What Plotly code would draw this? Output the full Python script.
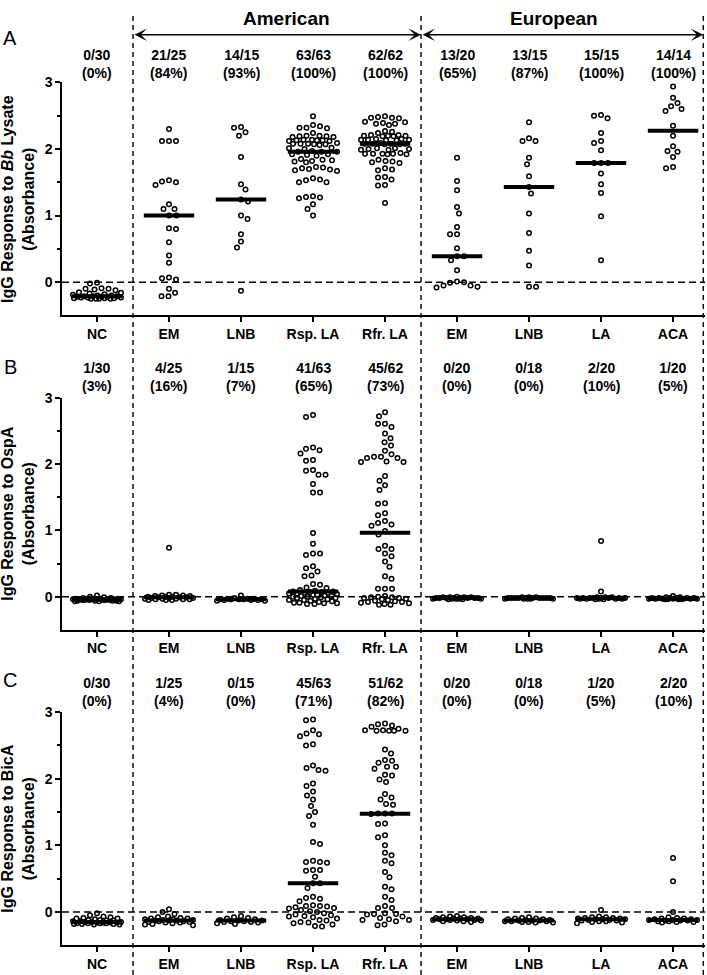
import numpy as np
import plotly.graph_objects as go

# ---------------- data ----------------
categories = ["NC", "EM", "LNB", "Rsp. LA", "Rfr. LA", "EM", "LNB", "LA", "ACA"]
region_labels = ["American", "European"]
panel_letters = ["A", "B", "C"]
antigens = ["<i>Bb</i> Lysate", "OspA", "BicA"]

# Panel A: IgG response to Bb lysate
a_nc = [-0.02, -0.01, -0.09, -0.10, -0.11, -0.12, -0.10, -0.15, -0.16, -0.17,
        -0.18, -0.19, -0.20, -0.20, -0.21, -0.21, -0.21, -0.22, -0.22, -0.22,
        -0.23, -0.23, -0.23, -0.24, -0.24, -0.24, -0.25, -0.25, -0.25, -0.25]
a_em_am = [2.30, 2.12, 2.12, 2.12, 1.53, 1.51, 1.50, 1.46, 1.17, 1.10, 1.10, 1.00, 1.00,
           0.81, 0.80, 0.60, 0.40, 0.29, 0.07, 0.06, 0.04, -0.10, -0.16, -0.21, -0.21]
a_lnb_am = [2.33, 2.32, 2.25, 2.20, 1.88, 1.47, 1.39, 1.24, 1.21, 1.00, 0.95, 0.72, 0.61, 0.52, -0.13]
a_rsp_la = [2.49,
            2.36, 2.34, 2.32, 2.32, 2.31,
            2.24,
            2.20, 2.19, 2.19, 2.18, 2.20, 2.18,
            2.14, 2.13, 2.13, 2.12, 2.14, 2.13, 2.12,
            2.08, 2.07, 2.09, 2.08, 2.07, 2.06, 2.08,
            2.02, 2.01, 2.00,
            1.96, 1.96, 1.96, 1.97,
            1.92, 1.91, 1.92, 1.90,
            1.85, 1.83, 1.81, 1.82, 1.84, 1.80,
            1.72, 1.69, 1.68, 1.71, 1.67, 1.70, 1.73,
            1.54, 1.50, 1.50, 1.53, 1.56,
            1.29, 1.28, 1.27, 1.26,
            1.17, 1.10, 1.00]
a_rfr_la = [2.49, 2.47, 2.46, 2.48, 2.47,
            2.40, 2.38, 2.36, 2.38, 2.39, 2.41,
            2.27, 2.26, 2.24,
            2.21, 2.20, 2.19, 2.20, 2.21, 2.19, 2.20,
            2.15, 2.14, 2.13, 2.14, 2.15, 2.13, 2.14,
            2.08, 2.08, 2.07, 2.09, 2.08, 2.07, 2.08,
            2.01, 2.00, 1.99, 2.01, 2.00, 1.99,
            1.93, 1.93, 1.92, 1.94, 1.93, 1.92, 1.93,
            1.84, 1.81, 1.80, 1.79, 1.82,
            1.71, 1.68, 1.69, 1.58, 1.54, 1.57,
            1.46, 1.45,
            1.19]
a_em_eu = [1.87, 1.52, 1.38, 1.13, 1.03, 0.83, 0.72, 0.72, 0.51, 0.39, 0.39, 0.33, 0.18,
           0.01, 0.00, -0.01, -0.05, -0.05, -0.07, -0.08]
a_lnb_eu = [2.40, 2.16, 2.12, 2.12, 1.87, 1.77, 1.59, 1.43, 1.33, 1.03, 0.74, 0.47, 0.25, -0.07, -0.07]
a_la_eu = [2.51, 2.50, 2.46, 2.24, 2.12, 2.09, 1.98, 1.79, 1.79, 1.79, 1.63, 1.47, 1.34, 0.99, 0.33]
a_aca = [2.94, 2.77, 2.69, 2.64, 2.60, 2.57, 2.35, 2.20, 2.04, 1.97, 1.96, 1.88, 1.73, 1.71]
a_counts = ["0/30", "21/25", "14/15", "63/63", "62/62", "13/20", "13/15", "15/15", "14/14"]
a_pcts = ["0%", "84%", "93%", "100%", "100%", "65%", "87%", "100%", "100%"]

# Panel B: IgG response to OspA
b_nc = [0.02, 0.00, -0.01, -0.02, -0.02, -0.03, -0.03, -0.03, -0.03, -0.03,
        -0.04, -0.04, -0.04, -0.04, -0.04, -0.04, -0.04, -0.05, -0.05, -0.05,
        -0.05, -0.05, -0.05, -0.06, -0.06, -0.06, -0.06, -0.07, -0.07, -0.07]
b_em_am = [0.74, 0.03, 0.03, 0.02, 0.02, 0.01, 0.01, 0.00, 0.00, 0.00, -0.01, -0.01, -0.01,
           -0.02, -0.02, -0.02, -0.03, -0.03, -0.03, -0.04, -0.04, -0.04, -0.05, -0.05, -0.05]
b_lnb_am = [0.02, -0.02, -0.03, -0.03, -0.03, -0.04, -0.04, -0.04, -0.04, -0.04,
            -0.05, -0.05, -0.05, -0.06, -0.06]
b_rsp_la = [2.74, 2.71, 2.25, 2.23, 2.21, 2.16, 2.06, 2.05, 1.91, 1.90, 1.84, 1.84, 1.70,
            1.57, 1.57, 0.96, 0.80, 0.65, 0.65, 0.63, 0.46, 0.43, 0.38, 0.32, 0.31,
            0.19, 0.18, 0.14, 0.13,
            0.10, 0.09, 0.08, 0.08, 0.07, 0.07, 0.06, 0.06, 0.05, 0.05, 0.04, 0.03,
            0.03, 0.02, 0.01, 0.01, 0.00, 0.00, -0.01, -0.02, -0.02, -0.03, -0.04,
            -0.05, -0.05, -0.06, -0.07, -0.08, -0.09, -0.09, -0.10, -0.10, -0.11, -0.11]
b_rfr_la = [2.78, 2.72, 2.61, 2.61, 2.56, 2.46, 2.39, 2.33, 2.28, 2.20, 2.15, 2.11, 2.09,
            2.03, 2.03, 2.04, 2.09, 2.11, 1.82, 1.75, 1.68, 1.61, 1.41, 1.40, 1.26, 1.23,
            1.14, 1.11, 1.09, 1.07, 0.99, 0.94, 0.77, 0.72, 0.72, 0.65, 0.61, 0.53, 0.45,
            0.31, 0.27, 0.12, 0.12, 0.12,
            0.01, 0.00, -0.01, -0.01, -0.02, -0.02, -0.03, -0.04, -0.05, -0.06, -0.07,
            -0.08, -0.08, -0.09, -0.10, -0.11, -0.12, -0.12]
b_em_eu = [0.00, -0.01, -0.01, -0.01, -0.01, -0.02, -0.02, -0.02, -0.02, -0.02,
           -0.02, -0.02, -0.02, -0.03, -0.03, -0.03, -0.03, -0.03, -0.04, -0.04]
b_lnb_eu = [-0.01, -0.01, -0.01, -0.02, -0.02, -0.02, -0.02, -0.02, -0.02,
            -0.02, -0.02, -0.02, -0.02, -0.03, -0.03, -0.03, -0.03, -0.03]
b_la_eu = [0.84, 0.08, -0.01, -0.01, -0.01, -0.02, -0.02, -0.02, -0.02, -0.02,
           -0.02, -0.02, -0.02, -0.03, -0.03, -0.03, -0.03, -0.03, -0.04, -0.04]
b_aca = [0.01, -0.01, -0.01, -0.02, -0.02, -0.02, -0.02, -0.02, -0.02, -0.03,
         -0.03, -0.03, -0.03, -0.03, -0.03, -0.03, -0.04, -0.04, -0.04, -0.04]
b_counts = ["1/30", "4/25", "1/15", "41/63", "45/62", "0/20", "0/18", "2/20", "1/20"]
b_pcts = ["3%", "16%", "7%", "65%", "73%", "0%", "0%", "10%", "5%"]

# Panel C: IgG response to BicA
c_nc = [-0.02, -0.05, -0.07, -0.08, -0.09, -0.10, -0.10, -0.11, -0.12, -0.12,
        -0.13, -0.13, -0.14, -0.14, -0.15, -0.15, -0.15, -0.16, -0.16, -0.16,
        -0.16, -0.17, -0.17, -0.17, -0.17, -0.18, -0.18, -0.18, -0.19, -0.19]
c_em_am = [0.04, 0.00, -0.03, -0.07, -0.08, -0.09, -0.10, -0.10, -0.11, -0.11, -0.12, -0.12,
           -0.13, -0.13, -0.13, -0.14, -0.14, -0.15, -0.15, -0.16, -0.16, -0.17, -0.18, -0.19, -0.20]
c_lnb_am = [-0.06, -0.08, -0.09, -0.10, -0.11, -0.12, -0.13, -0.13, -0.14, -0.14,
            -0.15, -0.15, -0.16, -0.17, -0.18]
c_rsp_la = [2.89, 2.88, 2.73, 2.68, 2.67, 2.64, 2.52, 2.50, 2.20, 2.16, 2.13, 2.12, 1.93,
            1.89, 1.81, 1.75, 1.69, 1.59, 1.50, 1.44, 1.31, 1.05, 1.02, 0.77, 0.75, 0.75,
            0.74, 0.63, 0.63, 0.62, 0.53, 0.43, 0.43, 0.36, 0.23, 0.21, 0.20, 0.16,
            0.10, 0.09, 0.09, 0.08, 0.07, 0.06, 0.05, 0.03, 0.01, 0.00, -0.02, -0.04,
            -0.05, -0.06, -0.07, -0.08, -0.10, -0.12, -0.13, -0.15, -0.16, -0.17, -0.19,
            -0.21, -0.22]
c_rfr_la = [2.83, 2.82, 2.80, 2.78, 2.75, 2.73, 2.73, 2.72, 2.72, 2.72, 2.72, 2.44, 2.38,
            2.28, 2.27, 2.24, 2.18, 2.18, 2.15, 2.06, 2.05, 1.99, 1.95, 1.77, 1.72, 1.69,
            1.62, 1.61, 1.48, 1.48, 1.48, 1.47, 1.33, 1.32, 1.15, 1.12, 1.00, 0.89, 0.85,
            0.77, 0.73, 0.60, 0.52, 0.38, 0.34, 0.23, 0.18, 0.09, 0.06, 0.06,
            -0.02, -0.03, -0.03, -0.04, -0.07, -0.09, -0.11, -0.12, -0.12, -0.14, -0.19, -0.20]
c_em_eu = [-0.06, -0.07, -0.08, -0.08, -0.09, -0.09, -0.10, -0.10, -0.10, -0.11,
           -0.11, -0.11, -0.12, -0.12, -0.12, -0.13, -0.13, -0.14, -0.14, -0.15]
c_lnb_eu = [-0.08, -0.09, -0.10, -0.10, -0.11, -0.11, -0.12, -0.12, -0.13,
            -0.13, -0.13, -0.14, -0.14, -0.14, -0.15, -0.15, -0.16, -0.16]
c_la_eu = [0.03, -0.07, -0.08, -0.08, -0.09, -0.09, -0.10, -0.10, -0.11, -0.11,
           -0.11, -0.12, -0.12, -0.13, -0.13, -0.14, -0.14, -0.15, -0.16, -0.17]
c_aca = [0.81, 0.46, 0.00, -0.08, -0.09, -0.10, -0.10, -0.11, -0.11, -0.12,
         -0.12, -0.12, -0.13, -0.13, -0.13, -0.14, -0.14, -0.15, -0.15, -0.16]
c_counts = ["0/30", "1/25", "0/15", "45/63", "51/62", "0/20", "0/18", "1/20", "2/20"]
c_pcts = ["0%", "4%", "0%", "71%", "82%", "0%", "0%", "5%", "10%"]

panels = [
    ([a_nc, a_em_am, a_lnb_am, a_rsp_la, a_rfr_la, a_em_eu, a_lnb_eu, a_la_eu, a_aca], a_counts, a_pcts),
    ([b_nc, b_em_am, b_lnb_am, b_rsp_la, b_rfr_la, b_em_eu, b_lnb_eu, b_la_eu, b_aca], b_counts, b_pcts),
    ([c_nc, c_em_am, c_lnb_am, c_rsp_la, c_rfr_la, c_em_eu, c_lnb_eu, c_la_eu, c_aca], c_counts, c_pcts),
]

# ---------------- geometry / style ----------------
FIG_W, FIG_H = 707, 975
X_LEFT, X_RIGHT = 62, 705
PANEL_TB = [(75, 310), (393, 627), (710, 945)]
COUNT_Y = [56, 372.5, 690]
LETTER_Y = [30, 362, 678]
XR = [-0.486, 8.444]
YR = [-0.5, 3.0]
XPX = (X_RIGHT - X_LEFT) / (XR[1] - XR[0])
YPX = (PANEL_TB[0][1] - PANEL_TB[0][0]) / (YR[1] - YR[0])
FONT = "Liberation Sans, Arial, Helvetica, sans-serif"


def xpaper(xv):
    return (X_LEFT + (xv - XR[0]) * XPX) / FIG_W


def ypaper(ypx):
    return 1 - ypx / FIG_H


def swarm_offsets(values, d_min=7.0, w_max=24.0):
    """Beeswarm offsets (in pixels) computed from the values."""
    v = np.asarray(values, float)
    order = np.argsort(-v, kind="stable")
    yp = v * YPX
    cand = np.arange(-w_max, w_max + 0.001, 0.5)
    px_list, py_list = [], []
    off = np.zeros(len(v))
    for k, idx in enumerate(order):
        y = yp[idx]
        if px_list:
            pxa = np.array(px_list)
            pya = np.array(py_list)
            dy = pya - y
            near = np.abs(dy) < d_min
            if near.any():
                d = np.sqrt((cand[:, None] - pxa[near][None, :]) ** 2 + dy[near][None, :] ** 2).min(axis=1)
            else:
                d = np.full(len(cand), np.inf)
        else:
            d = np.full(len(cand), np.inf)
        side = 1 if k % 2 == 0 else -1
        ok = d >= d_min
        if ok.any():
            score = np.abs(cand) + 1e-3 * (np.sign(cand) == -side)
            score[~ok] = np.inf
            j = int(np.argmin(score))
        else:
            score = -d + 1e-3 * np.abs(cand)
            j = int(np.argmin(score))
        off[idx] = cand[j]
        px_list.append(cand[j])
        py_list.append(y)
    return off


fig = go.Figure()
shapes = []
annotations = []
layout_axes = {}

for p, (groups, counts, pcts) in enumerate(panels):
    xname = "x" if p == 0 else f"x{p + 1}"
    yname = "y" if p == 0 else f"y{p + 1}"
    top, bot = PANEL_TB[p]
    med_x, med_y = [], []
    for i, vals in enumerate(groups):
        offs = swarm_offsets(vals)
        fig.add_trace(go.Scatter(
            x=i + offs / XPX, y=vals, mode="markers",
            marker=dict(symbol="circle-open", size=4.5, color="black", line=dict(width=1.5)),
            xaxis=xname, yaxis=yname, showlegend=False, hoverinfo="skip"))
        m = float(np.median(vals))
        med_x += [i - 0.35, i + 0.35, None]
        med_y += [m, m, None]
    fig.add_trace(go.Scatter(x=med_x, y=med_y, mode="lines",
                             line=dict(color="black", width=4),
                             xaxis=xname, yaxis=yname, showlegend=False, hoverinfo="skip"))

    layout_axes["xaxis" if p == 0 else f"xaxis{p + 1}"] = dict(
        domain=[X_LEFT / FIG_W, X_RIGHT / FIG_W], range=XR, anchor=yname,
        showline=True, linecolor="black", linewidth=1.5, mirror=False,
        ticks="outside", ticklen=5, tickwidth=1.5, tickcolor="black",
        tickvals=list(range(len(categories))),
        ticktext=[f"<b>{c}</b>" for c in categories],
        tickfont=dict(family=FONT, size=14, color="black"),
        showgrid=False, zeroline=False, fixedrange=True)
    layout_axes["yaxis" if p == 0 else f"yaxis{p + 1}"] = dict(
        domain=[1 - bot / FIG_H, 1 - top / FIG_H], range=YR, anchor=xname,
        showline=True, linecolor="black", linewidth=1.5,
        ticks="outside", ticklen=5, tickwidth=1.5, tickcolor="black",
        tickvals=[0, 1, 2, 3], ticktext=["<b>0</b>", "<b>1</b>", "<b>2</b>", "<b>3</b>"],
        tickfont=dict(family=FONT, size=14, color="black"),
        minor=dict(tickvals=[0.5, 1.5, 2.5], ticks="outside", ticklen=3,
                   tickwidth=1.5, tickcolor="black", showgrid=False),
        showgrid=False, zeroline=False, fixedrange=True)

    # dashed zero line
    shapes.append(dict(type="line", xref="paper", yref=yname,
                       x0=X_LEFT / FIG_W, x1=X_RIGHT / FIG_W, y0=0, y1=0,
                       line=dict(color="black", width=1.5, dash="7px,4px")))

    # counts
    for i, (c, pc) in enumerate(zip(counts, pcts)):
        annotations.append(dict(text=f"<b>{c}</b><br><b>({pc})</b>", x=xpaper(i), y=ypaper(COUNT_Y[p]),
                                xref="paper", yref="paper", showarrow=False,
                                xanchor="center", yanchor="middle",
                                font=dict(family=FONT, size=14, color="black")))
    # panel letter
    annotations.append(dict(text=panel_letters[p], x=10 / FIG_W, y=ypaper(LETTER_Y[p]),
                            xref="paper", yref="paper", showarrow=False,
                            xanchor="center", yanchor="middle",
                            font=dict(family=FONT, size=20, color="black")))
    # y title
    annotations.append(dict(text=f"<b>IgG Response to {antigens[p]}</b><br><b>(Absorbance)</b>",
                            x=18 / FIG_W, y=ypaper((top + bot) / 2),
                            xref="paper", yref="paper", showarrow=False, textangle=-90,
                            xanchor="center", yanchor="middle",
                            font=dict(family=FONT, size=16, color="black")))

# vertical dashed separators across the whole figure
for xv in [0.5, 4.5, 8.42]:
    shapes.append(dict(type="line", xref="paper", yref="paper",
                       x0=xpaper(xv), x1=xpaper(xv), y0=0, y1=ypaper(7),
                       line=dict(color="black", width=1.4, dash="5px,4px")))

# region headers with double arrows
for (x0, x1), label, cx in zip([(0.5, 4.5), (4.5, 8.42)], region_labels, [286, 554]):
    annotations.append(dict(text="", x=xpaper(x1), y=ypaper(27), xref="paper", yref="paper",
                            ax=-(x1 - x0) * XPX, ay=0, axref="pixel", ayref="pixel",
                            showarrow=True, arrowside="end+start",
                            arrowhead=3, startarrowhead=3, arrowsize=1.4, startarrowsize=1.4,
                            arrowwidth=1.5, arrowcolor="black"))
    annotations.append(dict(text=f"<b>{label}</b>", x=cx / FIG_W, y=ypaper(11),
                            xref="paper", yref="paper", showarrow=False,
                            xanchor="center", yanchor="middle",
                            font=dict(family=FONT, size=19, color="black")))

fig.update_layout(
    width=FIG_W, height=FIG_H,
    margin=dict(l=0, r=0, t=0, b=0),
    paper_bgcolor="white", plot_bgcolor="white",
    font=dict(family=FONT, color="black"),
    shapes=shapes, annotations=annotations,
    showlegend=False, hovermode=False,
    **layout_axes)

fig.write_html("out.html", config={"displayModeBar": False},
               post_script="document.body.style.margin='0';document.body.style.padding='0';"
                           "document.body.style.overflow='hidden';")
